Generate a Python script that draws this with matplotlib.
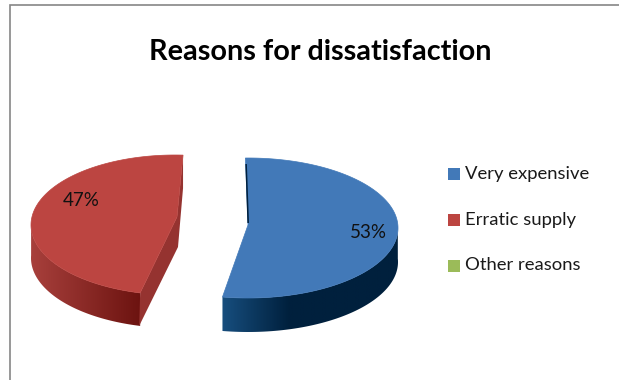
import numpy as np
import matplotlib
matplotlib.use('Agg')
import matplotlib.pyplot as plt
from matplotlib.colors import LinearSegmentedColormap
from matplotlib.patches import Polygon, Rectangle

# data
title = 'Reasons for dissatisfaction'
categories = ['Very expensive', 'Erratic supply', 'Other reasons']
shares = [53, 47, 0]
colors = ['#4279B8', '#BC4541', '#9BBB59']

# slice geometry, in image pixels
start_angles = {0: -1.0, 1: 194.0}
centers = {0: (248, 228), 1: (175, 225)}
tips = {0: (248, 225), 1: (177, 217)}
radii = {0: (150, 70), 1: (144, 70)}
depth = {0: 34, 1: 33}
wall_ramps = {
    0: [(0.0, '#174E7E'), (0.38, '#00203D'), (1.0, '#00203D')],
    1: [(0.0, '#A8403C'), (1.0, '#6C1310')],
}
cut_colors = {0: '#00203D', 1: '#953330'}
label_pos = {0: (368, 232), 1: (81, 201)}

plt.rcParams['font.family'] = ['Lato', 'DejaVu Sans']

fig = plt.figure(figsize=(6.19, 3.80), dpi=100)
ax = fig.add_axes([0, 0, 1, 1])
ax.axis('off')

# chart frame
ax.plot([619, 10, 10], [5, 5, 380], color='#868686', lw=1.2, solid_joinstyle='miter')


def rim(i, a0, a1, n=200):
    # angles are clockwise from 12 o'clock
    t = np.radians(np.linspace(a0, a1, n))
    cx, cy = centers[i]
    rx, ry = radii[i]
    return cx + rx * np.sin(t), cy - ry * np.cos(t)


for i, share in enumerate(shares):
    if share == 0:
        continue
    a0 = start_angles[i]
    a1 = a0 + share * 3.6
    x, y = rim(i, a0, a1)
    d = depth[i]
    tip = tips[i]

    # outer wall, only the part facing the viewer, with a left-to-right ramp
    front = np.cos(np.radians(np.linspace(a0, a1, 200))) < 0.05
    xf, yf = x[front], y[front]
    wall = Polygon(np.column_stack([np.r_[xf, xf[::-1]], np.r_[yf, yf[::-1] + d]]),
                   closed=True, transform=ax.transData)
    ramp = LinearSegmentedColormap.from_list(f'wall{i}', wall_ramps[i])
    im = ax.imshow(np.linspace(0, 1, 256)[None, :], cmap=ramp, aspect='auto',
                   extent=(xf.min(), xf.max(), yf.max() + d, yf.min()), zorder=2)
    im.set_clip_path(wall)

    # cut faces
    if i == 1:
        cut = [(x[-1], y[-1]), (x[-1], y[-1] + d), (tip[0] + 1, tip[1] + 30),
               (x[0] - 1, y[0] + d), (x[0], y[0]), tip]
        ax.add_patch(Polygon(cut, closed=True, fc=cut_colors[i], ec='none', zorder=3))
    else:
        cut = [(x[0], y[0] + 6), (x[0] + 2, tip[1] - 2), (tip[0] + 1, tip[1] - 2),
               (x[0] + 1.5, y[0] + 6)]
        ax.add_patch(Polygon(cut, closed=True, fc=cut_colors[i], ec='none', zorder=5))

    # top face
    face = np.column_stack([np.r_[tip[0], x], np.r_[tip[1], y]])
    ax.add_patch(Polygon(face, closed=True, fc=colors[i], ec=colors[i], lw=0.5, zorder=4))

    ax.text(*label_pos[i], f'{share}%', ha='center', va='center',
            fontsize=13.5, color='#111111', zorder=6)

# title
ax.text(320, 52, title, ha='center', va='center', fontsize=20.7,
        fontweight='bold', color='black')

# legend
legend_y = [174, 220, 266]
for name, col, ly in zip(categories, colors, legend_y):
    ax.add_patch(Rectangle((448, ly - 6), 12, 12, fc=col, ec='none'))
    ax.text(465, ly - 0.5, name, ha='left', va='center', fontsize=13.3, color='#1A1A1A')

ax.set_xlim(0, 619)
ax.set_ylim(380, 0)
fig.savefig('out.png', dpi=100)
